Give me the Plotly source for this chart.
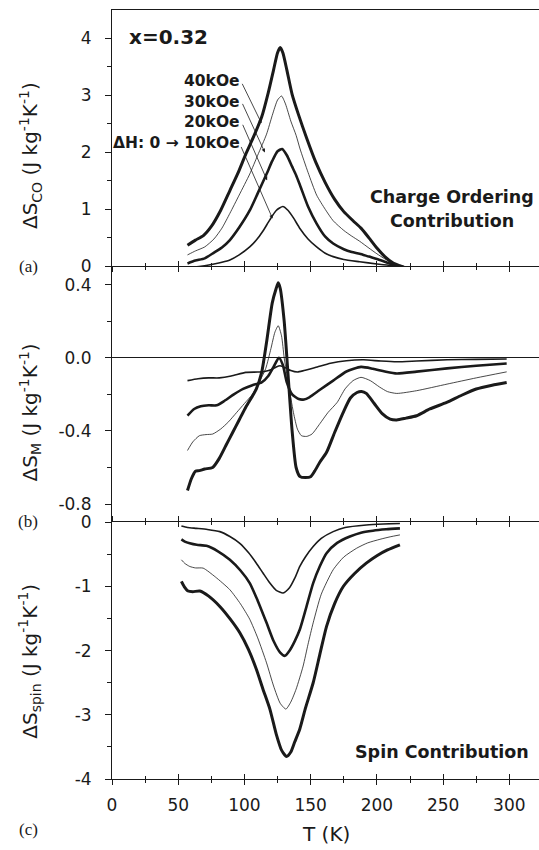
import plotly.graph_objects as go

# ---------------- data ----------------
# (a) Charge ordering contribution
co40_T = [57, 63, 69, 75, 82, 89, 95, 101, 107, 113, 118, 122, 125, 127, 129, 132, 136, 141, 147, 154, 161, 168, 175, 182, 188, 194, 200, 206, 212, 217, 222]
co40_v = [0.37, 0.46, 0.54, 0.70, 0.98, 1.33, 1.63, 1.97, 2.28, 2.62, 3.05, 3.45, 3.75, 3.84, 3.75, 3.45, 3.02, 2.65, 2.25, 1.82, 1.47, 1.18, 0.96, 0.80, 0.67, 0.50, 0.32, 0.17, 0.06, 0.01, -0.03]
co30_T = [57, 63, 70, 77, 83, 89, 96, 104, 110, 116.7, 121, 125, 128, 131, 135, 139, 142, 148, 154.5, 161, 167, 175, 181, 187, 194, 200, 206, 212, 218, 222]
co30_v = [0.20, 0.27, 0.34, 0.48, 0.67, 0.93, 1.25, 1.62, 1.95, 2.32, 2.65, 2.92, 2.99, 2.85, 2.55, 2.30, 2.06, 1.65, 1.25, 1.00, 0.80, 0.63, 0.53, 0.44, 0.32, 0.22, 0.13, 0.05, 0.00, -0.03]
co20_T = [57, 63, 70, 77, 83, 89, 96, 104, 110, 116.7, 121, 125, 128.5, 132, 136, 139, 142, 148, 154.5, 161, 167, 175, 181, 187, 194, 200, 206, 212, 218, 222]
co20_v = [0.05, 0.10, 0.14, 0.24, 0.33, 0.46, 0.68, 0.98, 1.28, 1.62, 1.85, 2.02, 2.06, 1.95, 1.75, 1.60, 1.42, 1.05, 0.75, 0.52, 0.40, 0.30, 0.25, 0.22, 0.17, 0.13, 0.08, 0.03, 0.00, -0.03]
co10_T = [57, 63, 70, 77, 83, 89, 96, 104, 109, 114, 119, 124, 129, 133, 137, 142, 148, 154.5, 161, 167, 175, 187, 200, 212, 222]
co10_v = [-0.03, -0.01, 0.01, 0.04, 0.07, 0.11, 0.20, 0.34, 0.46, 0.62, 0.81, 0.98, 1.05, 0.98, 0.85, 0.66, 0.48, 0.34, 0.23, 0.17, 0.12, 0.08, 0.04, 0.01, -0.03]

# (b) total magnetic entropy change
m10_T = [57, 65, 73, 81, 90, 101, 110, 115, 120, 124, 127, 131, 135, 140, 145, 155, 165, 177, 190, 203, 215, 230, 253, 275, 298]
m10_v = [-0.125, -0.115, -0.11, -0.11, -0.10, -0.08, -0.078, -0.075, -0.065, -0.05, -0.044, -0.055, -0.07, -0.078, -0.07, -0.05, -0.03, -0.016, -0.011, -0.018, -0.022, -0.018, -0.011, -0.009, -0.007]
m20_T = [57, 62, 67, 73, 79, 85, 92, 99, 106, 113, 118, 122, 126, 129, 132, 136, 141, 145, 149, 157, 167, 177, 188, 197, 206, 215, 230, 253, 275, 298]
m20_v = [-0.316, -0.28, -0.265, -0.26, -0.26, -0.235, -0.20, -0.17, -0.15, -0.135, -0.10, -0.05, 0.0, -0.04, -0.135, -0.20, -0.226, -0.228, -0.216, -0.175, -0.125, -0.075, -0.05, -0.06, -0.075, -0.086, -0.076, -0.058, -0.044, -0.031]
m30_T = [57, 61, 66, 71, 76, 82, 88, 94, 100, 106, 111, 116, 120, 123, 125.5, 128, 130, 133, 137, 140, 143, 147, 151, 157, 163, 170, 176, 182, 188, 195, 202, 208, 215, 230, 253, 275, 298]
m30_v = [-0.507, -0.46, -0.426, -0.42, -0.417, -0.39, -0.35, -0.30, -0.25, -0.20, -0.135, -0.06, 0.05, 0.14, 0.175, 0.12, 0.0, -0.135, -0.30, -0.39, -0.426, -0.43, -0.417, -0.36, -0.30, -0.244, -0.17, -0.125, -0.107, -0.125, -0.16, -0.185, -0.195, -0.18, -0.144, -0.11, -0.077]
m40_T = [57, 60, 63, 66, 70, 76, 81, 86, 91, 96, 101, 106, 109, 113, 117, 121, 124, 125.5, 127, 130, 133, 136, 139, 142, 146, 150, 153, 157, 162, 168, 174.6, 180, 185, 188.4, 192, 198, 204, 210, 215, 222, 230, 240, 252.7, 264, 275, 287, 298]
m40_v = [-0.726, -0.66, -0.62, -0.617, -0.608, -0.60, -0.55, -0.48, -0.41, -0.34, -0.27, -0.21, -0.17, -0.08, 0.10, 0.30, 0.38, 0.41, 0.38, 0.20, -0.10, -0.40, -0.60, -0.65, -0.655, -0.65, -0.62, -0.57, -0.517, -0.41, -0.298, -0.22, -0.19, -0.184, -0.195, -0.25, -0.305, -0.335, -0.34, -0.33, -0.317, -0.28, -0.244, -0.205, -0.171, -0.15, -0.135]

# (c) spin contribution
s10_T = [52.4, 57, 63.8, 72, 81.4, 89, 96.5, 103, 109, 114, 119.2, 124, 129.2, 134, 138, 141.8, 146, 151.9, 158, 167, 176, 192, 205, 217.4]
s10_v = [-0.056, -0.08, -0.093, -0.11, -0.144, -0.22, -0.326, -0.47, -0.636, -0.79, -0.946, -1.06, -1.10, -1.02, -0.87, -0.687, -0.54, -0.377, -0.25, -0.144, -0.08, -0.04, -0.025, -0.016]
s20_T = [52.4, 55, 58.7, 64, 71.3, 80, 89, 97, 104, 110, 116.7, 122, 127, 130.5, 134, 138, 141.8, 147, 151.9, 157, 162, 170, 179.6, 188, 197, 207, 217.4]
s20_v = [-0.264, -0.30, -0.326, -0.35, -0.366, -0.45, -0.583, -0.75, -0.946, -1.22, -1.566, -1.85, -2.03, -2.08, -2.00, -1.85, -1.67, -1.30, -0.946, -0.68, -0.48, -0.32, -0.22, -0.16, -0.129, -0.108, -0.093]
s30_T = [52.4, 55, 58.7, 63, 68.8, 78, 89, 97, 104, 110, 116.7, 122, 127, 131.3, 135, 139, 144.3, 148, 151.9, 158, 167, 175, 184.7, 193, 202.3, 210, 217.4]
s30_v = [-0.583, -0.64, -0.687, -0.71, -0.713, -0.85, -1.05, -1.27, -1.51, -1.80, -2.19, -2.55, -2.82, -2.91, -2.80, -2.60, -2.24, -1.90, -1.566, -1.12, -0.738, -0.54, -0.403, -0.32, -0.264, -0.225, -0.195]
s40_T = [52.4, 54.5, 57.4, 61, 66.3, 73, 81.4, 89, 96.5, 103, 109, 114, 119.2, 124, 128, 131.8, 135, 138, 141.8, 146, 151.9, 157, 162, 168, 174.6, 183, 192, 200, 208, 217.4]
s40_v = [-0.92, -1.0, -1.07, -1.08, -1.07, -1.15, -1.31, -1.50, -1.72, -1.98, -2.29, -2.60, -2.91, -3.30, -3.55, -3.65, -3.58, -3.42, -3.22, -2.90, -2.50, -2.05, -1.62, -1.27, -1.00, -0.80, -0.636, -0.52, -0.43, -0.35]

x_ticks = [0, 50, 100, 150, 200, 250, 300]
x_minor = [25, 75, 125, 175, 225, 275]
ya_ticks = [0, 1, 2, 3, 4]
ya_minor = [0.5, 1.5, 2.5, 3.5]
yb_ticks = [0.4, 0.0, -0.4, -0.8]
yb_text = ["0.4", "0.0", "-0.4", "-0.8"]
yb_minor = [0.2, -0.2, -0.6]
yc_ticks = [0, -1, -2, -3, -4]
yc_text = ["0", "-1", "-2", "-3", "-4"]
yc_minor = [-0.5, -1.5, -2.5, -3.5]

# ---------------- figure ----------------
INK = "#1a1a1a"
W_THICK, W_MED, W_THIN, W_BOLD = 2.6, 1.6, 0.8, 3.0

fig = go.Figure()

def add(T, v, w, xa, ya):
    fig.add_trace(go.Scatter(x=T, y=v, mode="lines", xaxis=xa, yaxis=ya,
                             line=dict(color=INK, width=w, shape="spline", smoothing=0.6),
                             showlegend=False, hoverinfo="skip"))

add(co10_T, co10_v, W_MED, "x", "y")
add(co20_T, co20_v, W_THICK, "x", "y")
add(co30_T, co30_v, W_THIN, "x", "y")
add(co40_T, co40_v, W_BOLD, "x", "y")

add(m10_T, m10_v, W_MED, "x2", "y2")
add(m20_T, m20_v, W_THICK, "x2", "y2")
add(m30_T, m30_v, W_THIN, "x2", "y2")
add(m40_T, m40_v, W_BOLD, "x2", "y2")

add(s10_T, s10_v, W_MED, "x3", "y3")
add(s20_T, s20_v, W_THICK, "x3", "y3")
add(s30_T, s30_v, W_THIN, "x3", "y3")
add(s40_T, s40_v, W_BOLD, "x3", "y3")

# empty traces so overlay tick axes are drawn
fig.add_trace(go.Scatter(x=[None], y=[None], xaxis="x4", yaxis="y", showlegend=False, hoverinfo="skip"))
fig.add_trace(go.Scatter(x=[None], y=[None], xaxis="x5", yaxis="y3", showlegend=False, hoverinfo="skip"))

XR = [0, 322.4]
tickfont = dict(family="DejaVu Sans", size=17, color=INK)

def xax(**kw):
    d = dict(range=XR, showgrid=False, zeroline=False, linecolor=INK, linewidth=1,
             tickcolor=INK, tickwidth=1, tickvals=x_ticks, ticklen=5,
             minor=dict(tickvals=x_minor, ticklen=3, tickcolor=INK, tickwidth=1),
             tickfont=tickfont)
    d.update(kw)
    return d

def yax(**kw):
    d = dict(showgrid=False, linecolor=INK, linewidth=1, showline=True,
             ticks="outside", tickcolor=INK, tickwidth=1, ticklen=6,
             tickfont=tickfont, ticklabelstandoff=10)
    d.update(kw)
    return d

fig.update_layout(
    width=539, height=850,
    margin=dict(l=112, r=0, t=5, b=71),
    paper_bgcolor="white", plot_bgcolor="white",
    xaxis=xax(anchor="y", showline=True, mirror=True, ticks="outside", showticklabels=False),
    xaxis4=xax(anchor="y", overlaying="x", showline=False, ticks="inside",
               minor=dict(tickvals=x_minor, ticklen=3, tickcolor=INK, tickwidth=1, ticks="inside"),
               showticklabels=False),
    xaxis2=dict(anchor="y2", range=XR, visible=False),
    xaxis3=xax(anchor="y3", showline=True, mirror="ticks", ticks="outside",
               minor=dict(tickvals=x_minor, ticklen=3, tickcolor=INK, tickwidth=1, ticks="outside"),
               showticklabels=True, ticklabelstandoff=6),
    xaxis5=xax(anchor="y3", overlaying="x3", showline=False, mirror="ticks", ticks="inside",
               minor=dict(tickvals=x_minor, ticklen=3, tickcolor=INK, tickwidth=1, ticks="inside"),
               showticklabels=False),
    yaxis=yax(domain=[0.6667, 1], anchor="x", range=[0, 4.5], zeroline=False,
              tickvals=ya_ticks, ticktext=[str(t) for t in ya_ticks],
              minor=dict(tickvals=ya_minor, ticklen=4, tickcolor=INK, ticks="outside")),
    yaxis2=yax(domain=[0.3337, 0.6667], anchor="x2", range=[-0.9, 0.5],
               zeroline=True, zerolinecolor=INK, zerolinewidth=1,
               tickvals=yb_ticks, ticktext=yb_text,
               minor=dict(tickvals=yb_minor, ticklen=4, tickcolor=INK, ticks="outside")),
    yaxis3=yax(domain=[0, 0.3337], anchor="x3", range=[-4, 0], zeroline=False,
               tickvals=yc_ticks, ticktext=yc_text,
               minor=dict(tickvals=yc_minor, ticklen=4, tickcolor=INK, ticks="outside")),
)

ann = []
bold = dict(family="DejaVu Sans", size=17.5, color=INK)
# panel (a) texts
ann.append(dict(xref="x", yref="y", x=11, y=4.02, text="<b>x=0.32</b>", showarrow=False,
                xanchor="left", yanchor="middle", font=dict(family="DejaVu Sans", size=20, color=INK)))
labels = [("<b>40kOe</b>", 3.25), ("<b>30kOe</b>", 2.89), ("<b>20kOe</b>", 2.53), ("<b>ΔH: 0 → 10kOe</b>", 2.16)]
for txt, yv in labels:
    ann.append(dict(xref="x", yref="y", x=98.5, y=yv, text=txt, showarrow=False,
                    xanchor="right", yanchor="middle", font=dict(family="DejaVu Sans", size=15.5, color=INK)))
arrows = [(112.9, 2.51, -20, -41), (115.4, 2.0, -23, -50), (117.1, 1.51, -25, -57), (121.2, 0.84, -32, -73)]
for hx, hy, ax_, ay_ in arrows:
    ann.append(dict(xref="x", yref="y", x=hx, y=hy, ax=ax_, ay=ay_, text="", showarrow=True,
                    arrowhead=2, arrowsize=0.9, arrowwidth=0.8, arrowcolor=INK, standoff=0))
ann.append(dict(xref="x", yref="y", x=257, y=1.22, text="<b>Charge Ordering</b>", showarrow=False,
                xanchor="center", yanchor="middle", font=bold))
ann.append(dict(xref="x", yref="y", x=257, y=0.80, text="<b>Contribution</b>", showarrow=False,
                xanchor="center", yanchor="middle", font=bold))
ann.append(dict(xref="x3", yref="y3", x=249, y=-3.58, text="<b>Spin Contribution</b>", showarrow=False,
                xanchor="center", yanchor="middle", font=bold))

# axis titles
tfont = dict(family="DejaVu Sans", size=20, color=INK)
xt = (30 - 112) / 427
def ypaper(px):
    return (779 - px) / 774
ann.append(dict(xref="paper", yref="paper", x=xt, y=ypaper(152), textangle=-90, showarrow=False,
                text="ΔS<sub>CO</sub> (J kg<sup>-1</sup>K<sup>-1</sup>)", font=tfont,
                xanchor="center", yanchor="middle"))
ann.append(dict(xref="paper", yref="paper", x=xt, y=ypaper(410), textangle=-90, showarrow=False,
                text="ΔS<sub>M</sub> (J kg<sup>-1</sup>K<sup>-1</sup>)", font=tfont,
                xanchor="center", yanchor="middle"))
ann.append(dict(xref="paper", yref="paper", x=xt, y=ypaper(661), textangle=-90, showarrow=False,
                text="ΔS<sub>spin</sub> (J kg<sup>-1</sup>K<sup>-1</sup>)", font=tfont,
                xanchor="center", yanchor="middle"))
ann.append(dict(xref="paper", yref="paper", x=0.5, y=ypaper(834), showarrow=False,
                text="T (K)", font=tfont, xanchor="center", yanchor="middle"))

# panel letters
sfont = dict(family="Liberation Serif", size=17, color=INK)
for letter, py in [("(a)", 263), ("(b)", 520), ("(c)", 830)]:
    ann.append(dict(xref="paper", yref="paper", x=(28 - 112) / 427, y=ypaper(py), text=letter,
                    showarrow=False, font=sfont, xanchor="center", yanchor="middle"))

fig.update_layout(annotations=ann)
fig.write_html("out.html", config={"displayModeBar": False},
               post_script="document.body.style.margin='0px';document.body.style.overflow='hidden';")
